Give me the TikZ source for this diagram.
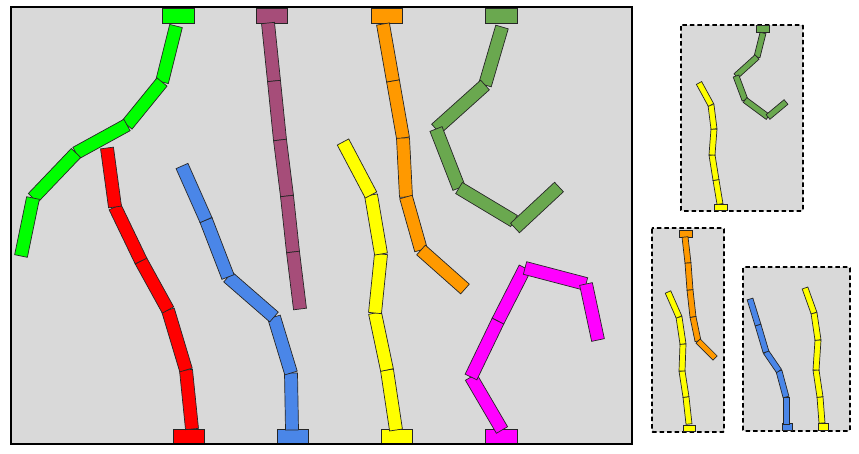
\documentclass[tikz,border=0pt]{standalone}
\usepackage{xcolor}
\usepackage{tikz}
\usetikzlibrary{calc}

\definecolor{armgreen}{HTML}{00FF00}
\definecolor{armplum}{HTML}{A64D79}
\definecolor{armred}{HTML}{FF0000}
\definecolor{armblue}{HTML}{4A86E8}
\definecolor{armyellow}{HTML}{FFFF00}
\definecolor{armorange}{HTML}{FF9900}
\definecolor{armolive}{HTML}{6AA84F}
\definecolor{armpink}{HTML}{FF00FF}
\definecolor{floor}{HTML}{D9D9D9}

% one link of an arm: colour, half width, from, to
\newcommand{\seg}[4]{%
  \draw[link, fill=#1] ($(#3)!#2!90:(#4)$) -- ($(#4)!#2!-90:(#3)$)
    -- ($(#4)!#2!90:(#3)$) -- ($(#3)!#2!-90:(#4)$) -- cycle;}

\begin{document}
\begin{tikzpicture}[
    x=1pt, y=-1pt,
    link/.style={draw=black!85, line width=0.7pt},
    frame/.style={draw=black, line width=1.8pt},
    panel/.style={draw=black, fill=floor, line width=1.8pt, dash pattern=on 4.5pt off 3pt, rounded corners=1pt}
]
    \useasboundingbox (0,0) rectangle (859,453);

    % Main scene
    \fill[floor] (11,7) rectangle (632,444);

    % Green arm
    \draw[link, fill=armgreen] (162,8) rectangle (194,23);
    \seg{armgreen}{6.5pt}{176,26}{162,82}
    \seg{armgreen}{6.5pt}{162,82}{127,125}
    \seg{armgreen}{6.5pt}{127,125}{76,153}
    \seg{armgreen}{6.5pt}{76,153}{33,198}
    \seg{armgreen}{6.5pt}{33,198}{21,256}

    % Plum arm
    \draw[link, fill=armplum] (256,8) rectangle (287,23);
    \seg{armplum}{6.5pt}{268,23}{274,81}
    \seg{armplum}{6.5pt}{274,81}{280,140}
    \seg{armplum}{6.5pt}{280,140}{287,196}
    \seg{armplum}{6.5pt}{287,196}{293,252}
    \seg{armplum}{6.5pt}{293,252}{300,309}

    % Red arm
    \draw[link, fill=armred] (173,429) rectangle (204,443);
    \seg{armred}{6.5pt}{192,429}{186,370}
    \seg{armred}{6.5pt}{186,370}{168,310}
    \seg{armred}{6.5pt}{168,310}{141,261}
    \seg{armred}{6.5pt}{141,261}{115,207}
    \seg{armred}{6.5pt}{115,207}{107,148}

    % Blue arm
    \draw[link, fill=armblue] (277,429) rectangle (308,443);
    \seg{armblue}{6.5pt}{292,430}{291,373}
    \seg{armblue}{6.5pt}{291,373}{274,317}
    \seg{armblue}{6.5pt}{274,317}{228,277}
    \seg{armblue}{6.5pt}{228,277}{206,220}
    \seg{armblue}{6.5pt}{206,220}{182,166}

    % Yellow arm
    \draw[link, fill=armyellow] (381,429) rectangle (412,443);
    \seg{armyellow}{6.5pt}{396,430}{387,370}
    \seg{armyellow}{6.5pt}{387,370}{375,313}
    \seg{armyellow}{6.5pt}{375,313}{381,254}
    \seg{armyellow}{6.5pt}{381,254}{371,195}
    \seg{armyellow}{6.5pt}{371,195}{343,142}

    % Orange arm
    \draw[link, fill=armorange] (371,8) rectangle (402,23);
    \seg{armorange}{6.5pt}{383,24}{393,81}
    \seg{armorange}{6.5pt}{393,81}{403,138}
    \seg{armorange}{6.5pt}{403,138}{406,197}
    \seg{armorange}{6.5pt}{406,197}{421,250}
    \seg{armorange}{6.5pt}{421,250}{465,289}

    % Olive arm
    \draw[link, fill=armolive] (485,8) rectangle (517,23);
    \seg{armolive}{6.5pt}{502,27}{485,85}
    \seg{armolive}{6.5pt}{485,85}{436,129}
    \seg{armolive}{6.5pt}{436,129}{459,188}
    \seg{armolive}{6.5pt}{459,188}{514,221}
    \seg{armolive}{6.5pt}{515,228}{559,187}

    % Pink arm
    \draw[link, fill=armpink] (485,429) rectangle (517,443);
    \seg{armpink}{6.5pt}{502,430}{471,377}
    \seg{armpink}{6.5pt}{471,377}{498,321}
    \seg{armpink}{6.5pt}{498,321}{525,268}
    \seg{armpink}{6.5pt}{525,268}{586,284}
    \seg{armpink}{6.5pt}{586,284}{598,340}

    \draw[frame] (11,7) rectangle (632,444);

    % Small panel: olive and yellow
    \draw[panel] (681,25) rectangle (803,211);
    \draw[link, fill=armolive] (756,25) rectangle (769,32);
    \seg{armolive}{3pt}{763,33}{757,57}
    \seg{armolive}{3pt}{757,57}{736,76}
    \seg{armolive}{3pt}{736,76}{745,100}
    \seg{armolive}{3pt}{745,100}{768,117}
    \seg{armolive}{3pt}{768,117}{786,102}
    \draw[link, fill=armyellow] (714,204) rectangle (727,210);
    \seg{armyellow}{3pt}{720,204}{716,180}
    \seg{armyellow}{3pt}{716,180}{712,155}
    \seg{armyellow}{3pt}{712,155}{714,129}
    \seg{armyellow}{3pt}{714,129}{711,105}
    \seg{armyellow}{3pt}{711,105}{699,83}

    % Small panel: orange and yellow
    \draw[panel] (652,228) rectangle (724,432);
    \draw[link, fill=armorange] (679,230) rectangle (692,237);
    \seg{armorange}{3pt}{685,237}{688,263}
    \seg{armorange}{3pt}{688,263}{690,290}
    \seg{armorange}{3pt}{690,290}{693,317}
    \seg{armorange}{3pt}{693,317}{698,341}
    \seg{armorange}{3pt}{698,341}{715,358}
    \draw[link, fill=armyellow] (683,425) rectangle (695,431);
    \seg{armyellow}{3pt}{689,424}{686,397}
    \seg{armyellow}{3pt}{686,397}{682,371}
    \seg{armyellow}{3pt}{682,371}{683,344}
    \seg{armyellow}{3pt}{683,344}{679,317}
    \seg{armyellow}{3pt}{679,317}{668,292}

    % Small panel: blue and yellow
    \draw[panel] (743,267) rectangle (850,431);
    \draw[link, fill=armblue] (782,423) rectangle (792,430);
    \seg{armblue}{3pt}{786,424}{786,397}
    \seg{armblue}{3pt}{786,397}{779,371}
    \seg{armblue}{3pt}{779,371}{766,352}
    \seg{armblue}{3pt}{766,352}{758,325}
    \seg{armblue}{3pt}{758,325}{750,299}
    \draw[link, fill=armyellow] (818,423) rectangle (828,430);
    \seg{armyellow}{3pt}{822,423}{820,397}
    \seg{armyellow}{3pt}{820,397}{816,370}
    \seg{armyellow}{3pt}{816,370}{818,340}
    \seg{armyellow}{3pt}{818,340}{814,313}
    \seg{armyellow}{3pt}{814,313}{805,288}
\end{tikzpicture}
\end{document}
